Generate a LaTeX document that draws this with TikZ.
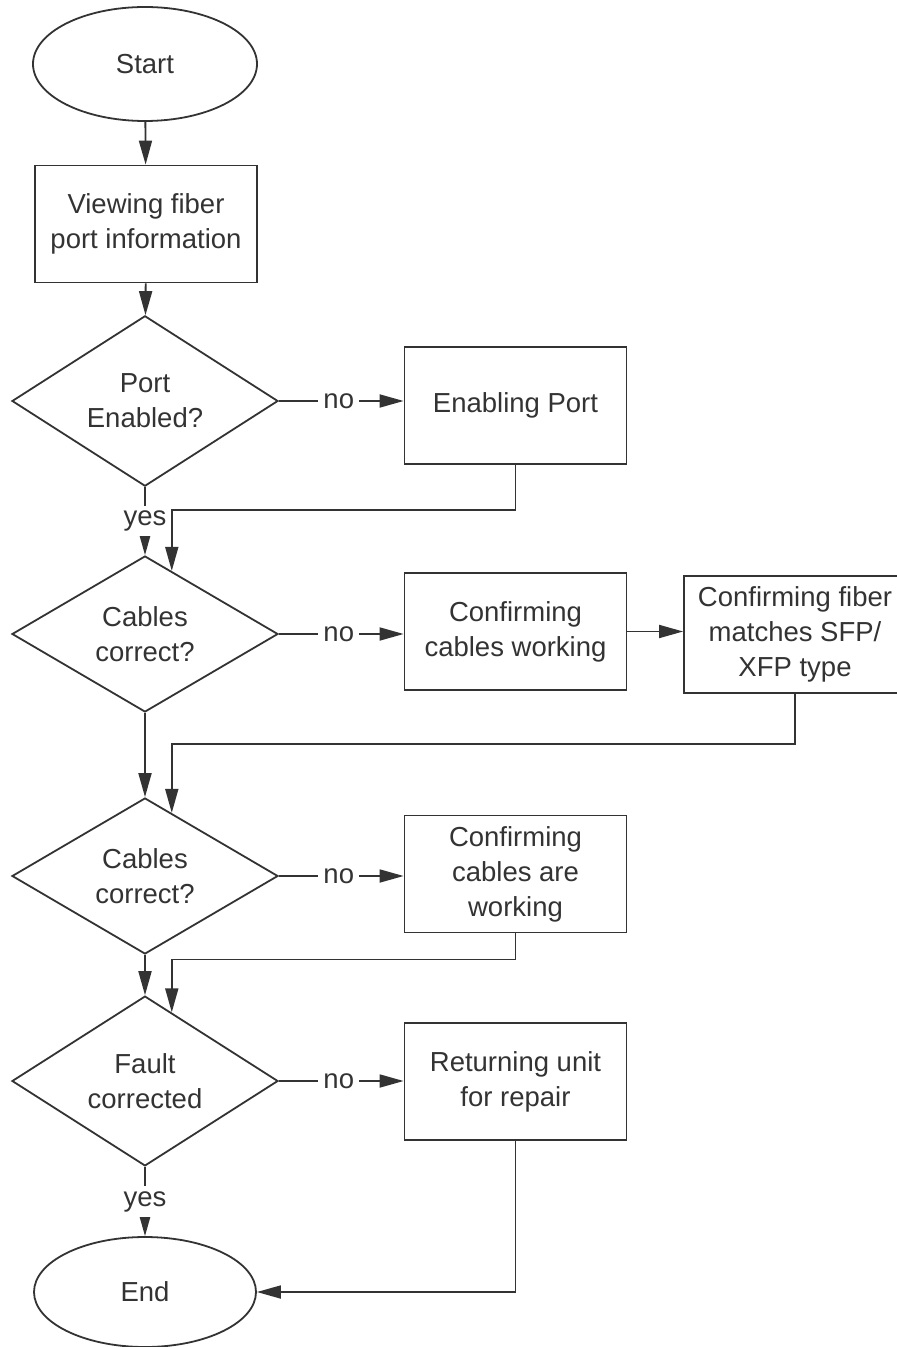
\documentclass[tikz,border=0pt]{standalone}
\usepackage{fontspec}
\setmainfont{Liberation Sans}
\usetikzlibrary{shapes.geometric,arrows.meta,calc}
\definecolor{ink}{HTML}{333333}
\begin{document}
\begin{tikzpicture}[x=0.5pt,y=-0.5pt,
  every node/.style={font=\fontsize{13.75}{17.5}\selectfont, text=ink, align=center},
  terminal/.style={ellipse, draw=ink, line width=0.9pt, minimum width=112pt, minimum height=57pt, inner sep=0pt},
  procbox/.style={rectangle, draw=ink, line width=0.9pt, minimum width=111pt, minimum height=58.5pt, inner sep=0pt},
  decision/.style={diamond, draw=ink, line width=0.9pt, minimum width=133pt, minimum height=78pt, inner sep=0pt},
  flow/.style={draw=ink, line width=0.9pt, -{Triangle[length=12pt,width=6.5pt]}},
  lbl/.style={fill=white, inner sep=2.5pt}]
\useasboundingbox (0,0) rectangle (896,1347);

% main column
\node[terminal] (start) at (145,64) {Start};
\node[procbox] (view) at (146,224) {Viewing fiber\\port information};
\node[decision] (d1) at (145,401) {Port\\Enabled?};
\node[decision] (d2) at (145,634) {Cables\\correct?};
\node[decision] (d3) at (145,876) {Cables\\correct?};
\node[decision] (d4) at (145,1081) {Fault\\corrected};
\node[terminal, minimum width=111pt, minimum height=55pt] (end) at (145,1292) {End};

% side branches
\node[procbox] (en) at (515.5,405.5) {Enabling Port};
\node[procbox] (cw) at (515.5,631.5) {Confirming\\cables working};
\node[procbox] (fib) at (795,634.5) {Confirming fiber\\matches SFP/\\XFP type};
\node[procbox] (ca) at (515.5,874) {Confirming\\cables are\\working};
\node[procbox] (ret) at (515.5,1081.5) {Returning unit\\for repair};

% main flow
\draw[flow] (start) -- (view);
\draw[flow] (view) -- (d1);
\draw[flow] (d1) -- node[lbl] {yes} (d2);
\draw[flow] (d2) -- (d3);
\draw[flow] (d3) -- (d4);
\draw[flow] (d4) -- node[lbl] {yes} (end);

% "no" branches
\draw[flow] (d1.east) -- node[lbl, pos=0.48] {no} (d1.east -| en.west);
\draw[flow] (d2.east) -- node[lbl, pos=0.48] {no} (d2.east -| cw.west);
\draw[flow] (d3.east) -- node[lbl, pos=0.48] {no} (d3.east -| ca.west);
\draw[flow] (d4.east) -- node[lbl, pos=0.48] {no} (d4.east -| ret.west);
\draw[flow] (cw.east) -- (cw.east -| fib.west);

% returns into the main column
\draw[flow] (en.south) -- ++(0,45) -| ($(d2.north)!0.2!(d2.east)$);
\draw[flow] (fib.south) -- ++(0,50) -| ($(d3.north)!0.2!(d3.east)$);
\draw[flow] (ca.south) -- ++(0,26) -| ($(d4.north)!0.2!(d4.east)$);
\draw[flow] (ret.south) |- (end.east);
\end{tikzpicture}
\end{document}
